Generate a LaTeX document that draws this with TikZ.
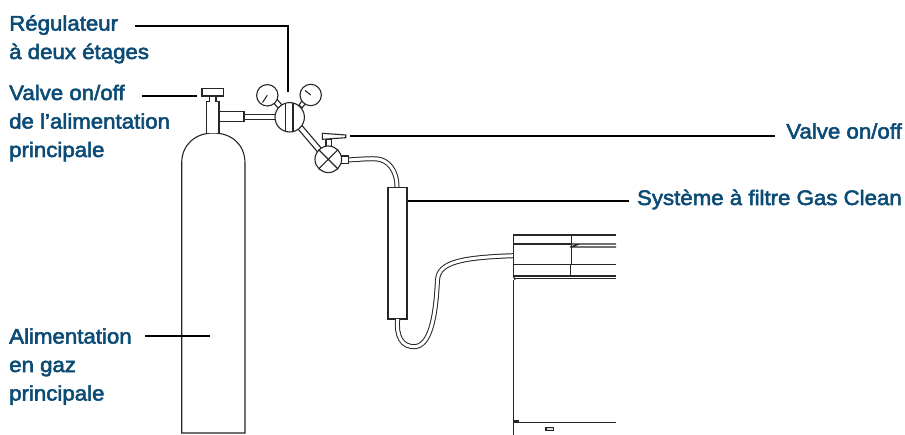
\documentclass[tikz,border=0pt]{standalone}
\usepackage{fontspec}
\setmainfont{Liberation Sans}[FakeBold=2.6,FakeStretch=1.06]
\usepackage{tikz}
\definecolor{labelblue}{HTML}{0B4B75}
\tikzset{
  part/.style={draw=black!85,fill=white,line width=1.1pt},
  tube/.style={draw=black!85,line width=1pt,double=white,double distance=3pt},
  leader/.style={draw=black,line width=1.7pt},
  lbl/.style={text=labelblue,font=\fontsize{21}{28.5}\selectfont,anchor=base west,inner sep=0pt,align=left},
  lblr/.style={text=labelblue,font=\fontsize{21}{28.5}\selectfont,anchor=base east,inner sep=0pt},
  gauge/.style={part,circle,inner sep=0pt,minimum size=21.4pt},
}
\begin{document}
\begin{tikzpicture}[x=1pt,y=-1pt]
\useasboundingbox (0,0) rectangle (905,435);
\begin{scope}
  % cylinder
  \draw[part] (181.7,433) -- (181.7,163) .. controls (181.7,145) and (195,133) .. (213.3,133) .. controls (232,133) and (245,145) .. (245,163) -- (245,433) -- cycle;
  \draw[part] (206.7,133) -- (206.7,101.7) -- (219,101.7) -- (219,133);
  \draw[part] (209.3,101.7) -- (209.3,96) -- (216,96) -- (216,101.7);
  \draw[part] (202,88.3) rectangle (223.7,96);
  \draw[part] (219,111.7) rectangle (244,121.7);
  \draw[part] (244,114.3) rectangle (276,119.7);
\end{scope}
\begin{scope}
  % regulator and valve
  \draw[part] (272.5,101.5) -- (276,98) -- (282,105) -- (278.5,108.5) -- cycle;
  \draw[part] (299,105) -- (302.5,100) -- (306,103) -- (302,108) -- cycle;
  \draw[part] (298,129) -- (302,125.5) -- (322,149) -- (318,152.5) -- cycle;
  \node[gauge] (gaugeL) at (267.3,95.3) {};
  \node[gauge] (gaugeR) at (310.7,95) {};
  \draw[part] (gaugeL.center) -- (262.5,102.5);
  \draw[part] (gaugeR.center) -- (305,90.5);
  \node[part,circle,inner sep=0pt,minimum size=29.4pt] (reg) at (289.7,117.3) {};
  \draw[part] (285.7,103.2) -- (285.7,131.4) (293,103) -- (293,131.6);
  \draw[part] (326,139.3) rectangle (331.3,147);
  \draw[part] (322.3,133.3) -- (345.7,135) -- (345.7,137.7) -- (322.3,139.3) -- cycle;
  \draw[tube] (347,160) .. controls (358,159.5) and (366,158.5) .. (376,158.8) .. controls (388,159.5) and (397,170) .. (397,187.3);
  \draw[part] (340.7,156) rectangle (348.3,163.3);
  \node[part,circle,inner sep=0pt,minimum size=26.6pt] (valve) at (328.3,159.3) {};
  \draw[part] (valve.north west) -- (valve.south east) (valve.north east) -- (valve.south west);
\end{scope}
\begin{scope}
  % filter and tube
  \node[part,inner sep=0pt,minimum width=19pt,minimum height=131.7pt] (filter) at (397.5,253.2) {};
  \draw[tube] (397.7,319) .. controls (396,335) and (401,348) .. (416,346.5) .. controls (432,344) and (436,310) .. (437.5,280) .. controls (438.5,262) and (462,257.5) .. (513.3,255.7);
\end{scope}
\begin{scope}
  % instrument
  \draw[part] (616,235) -- (513.3,235) -- (513.3,276) -- (616,276);
  \draw[part] (513.3,244) -- (571.3,244) (571.3,235) -- (571.3,264);
  \draw[part] (571.3,244) -- (616,244) (570,247) -- (616,247) (570,247) -- (580,244);
  \draw[part] (513.3,264.5) -- (616,264.5);
  \draw[part,line width=1.8pt] (570.5,264.5) -- (570.5,276);
  \draw[part,line width=1.4pt] (515,278.7) -- (616,278.7);
  \draw[part] (513.3,276) -- (515,280);
  \draw[part] (513.3,280) -- (513.3,435);
  \draw[part] (513.3,421) -- (519,421);
  \draw[part,line width=1.4pt] (513.3,422.7) -- (616,422.7);
  \draw[part,fill=black!15] (546,427.3) rectangle (553.3,430.7);
\end{scope}
\node[lbl] (reglabel) at (9,59) {Régulateur\\à deux étages};
\node[lbl] (mainvalvelabel) at (9,157) {Valve on/off\\de l’alimentation\\principale};
\node[lbl] (supplylabel) at (9,400.5) {Alimentation\\en gaz\\principale};
\node[lblr] (valvelabel) at (902,138.5) {Valve on/off};
\node[lblr] (filterlabel) at (902,205) {Système à filtre Gas Clean};
\coordinate (regstart) at (135,25.7);
\coordinate (regend) at (287.7,92.3);
\coordinate (mainvalvestart) at (141.5,96);
\coordinate (mainvalveend) at (197,96);
\coordinate (supplystart) at (145,335.7);
\coordinate (supplyend) at (210,335.7);
\coordinate (valvestart) at (350,135.8);
\coordinate (valveend) at (775,135.8);
\coordinate (filterend) at (629,200.7);
\draw[leader] (regstart) -| (regend);
\draw[leader] (mainvalvestart) -- (mainvalveend);
\draw[leader] (supplystart) -- (supplyend);
\draw[leader] (valvestart) -- (valveend);
\draw[leader] (filter.east |- filterend) -- (filterend);
\end{tikzpicture}
\end{document}
